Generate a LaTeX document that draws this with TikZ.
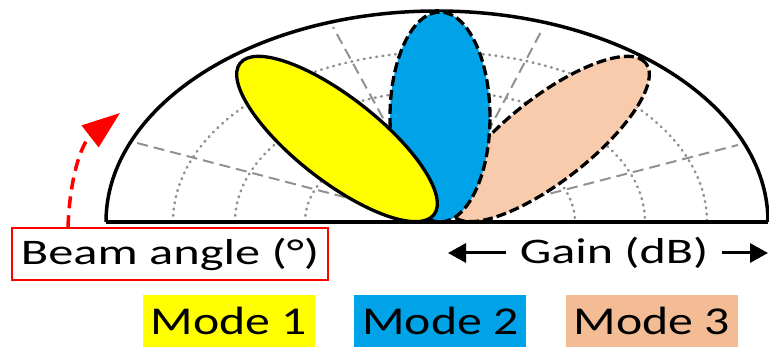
\documentclass[tikz,border=0pt]{standalone}
\usepackage{fontspec}
\setmainfont{Carlito}
\usepackage{graphicx}
\usetikzlibrary{arrows.meta,positioning,calc}

\definecolor{lobeyellow}{RGB}{255,255,0}
\definecolor{lobeblue}{RGB}{0,162,232}
\definecolor{lobepeach}{RGB}{248,203,173}
\definecolor{modepeach}{RGB}{244,188,148}
\definecolor{gridgray}{RGB}{145,145,145}
\newcommand{\widetext}[2]{\scalebox{#1}[1]{#2}}

\begin{document}
\begin{tikzpicture}[
  x=1pt, y=1pt,
  node distance=39pt,
  outline/.style={line width=3.5pt, line join=miter},
  lobe/.style={draw, line width=3.3pt},
  dashlobe/.style={lobe, dash pattern=on 10pt off 4pt},
  ring/.style={gridgray, line width=2.6pt, dash pattern=on 0.8pt off 5.5pt, line cap=round},
  spoke/.style={gridgray, line width=2pt, dash pattern=on 11pt off 6pt},
  modebox/.style={minimum width=172pt, minimum height=52pt, inner sep=0pt, font=\fontsize{39.5}{44}\selectfont},
  beambox/.style={draw=red, line width=1.5pt, minimum width=316pt, minimum height=52pt, inner sep=0pt, font=\fontsize{36}{40}\selectfont},
  gaintext/.style={inner xsep=14pt, inner ysep=0pt, font=\fontsize{36}{40}\selectfont},
  beamarr/.style={red, line width=3.5pt, dash pattern=on 12pt off 7pt, -{Triangle[length=38pt,width=27pt]}},
  gainarr/.style={line width=3pt, -{Triangle[length=18pt,width=19pt]}}
]
\useasboundingbox (0,0) rectangle (769,347);

% polar frame
\draw[outline] (106,125) arc[start angle=180, end angle=0, x radius=331, y radius=211];
\coordinate (c) at (440,125);
\draw[ring] (173,125) arc[start angle=180, end angle=0, x radius=267, y radius=170];
\draw[ring] (235,125) arc[start angle=180, end angle=0, x radius=205, y radius=131];
\draw[ring] (305,125) arc[start angle=180, end angle=0, x radius=135, y radius=86];
\foreach \ex/\ey in {137/204, 333/320, 543/319, 738/202}
  \draw[spoke] ($(c)!0.15!(\ex,\ey)$) -- (\ex,\ey);

% beam lobes
\draw[dashlobe, fill=lobepeach, rotate around={38:(549,208)}] (549,208) ellipse[x radius=123, y radius=42];
\draw[dashlobe, fill=lobeblue] (440,230) ellipse[x radius=50, y radius=105];
\draw[lobe, fill=lobeyellow, rotate around={-38:(337,208)}] (337,208) ellipse[x radius=123, y radius=42];
\draw[outline] (106,125) -- (768,125);

% labels
\node[beambox] (beam) at (170,93) {\widetext{1.40}{Beam angle (°)}};
\coordinate (tip) at (120,234);
\draw[beamarr] ([xshift=-102pt]beam.north) to[out=88, in=218] (tip);

\node[gaintext] (gain) at (614,94) {\widetext{1.39}{Gain (dB)}};
\coordinate (gl) at (448,94);
\coordinate (gr) at (768,94);
\draw[gainarr] (gain.west) -- (gl);
\draw[gainarr] (gain.east) -- (gr);

% legend
\node[modebox, fill=lobeyellow] (m1) at (229,26) {\widetext{1.26}{Mode 1}};
\node[modebox, fill=lobeblue, right=of m1] (m2) {\widetext{1.26}{Mode 2}};
\node[modebox, fill=modepeach, right=of m2] (m3) {\widetext{1.26}{Mode 3}};
\end{tikzpicture}
\end{document}
